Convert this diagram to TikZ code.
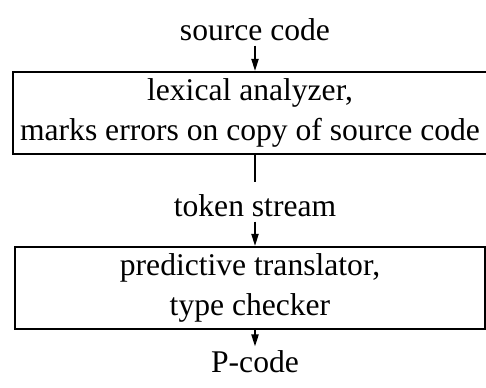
\documentclass[tikz,border=0pt]{standalone}
\usepackage{fontspec}
\setmainfont{Liberation Serif}
\usetikzlibrary{arrows.meta,positioning}

\begin{document}
\begin{tikzpicture}[x=0.5pt, y=-0.5pt,
  stage/.style={draw, line width=1pt, minimum width=235pt, align=center,
    font=\fontsize{15.8}{20}\selectfont},
  lbl/.style={font=\fontsize{15.8}{20}\selectfont, inner sep=2pt},
  arr/.style={-{Triangle[length=6pt,width=3.5pt]}, line width=1pt}
]
  \useasboundingbox (0,0) rectangle (486,387);
  \node[lbl] (src) at (255,30) {source code};
  \node[stage, minimum height=40pt] (lex) at (250,113)
    {lexical analyzer,\\marks errors on copy of source code};
  \node[lbl] (tok) at (255,206) {token stream};
  \node[stage, minimum height=38pt] (pred) at (250,288)
    {predictive translator,\\type checker};
  \node[lbl] (pc) at (255,362) {P-code};
  \draw[arr] (src) -- (src |- lex.north);
  \draw[line width=1pt] (lex.south -| tok) -- ([yshift=4pt]tok.north);
  \draw[arr] (tok) -- (tok |- pred.north);
  \draw[arr] (pred.south -| pc) -- (pc);
\end{tikzpicture}
\end{document}
